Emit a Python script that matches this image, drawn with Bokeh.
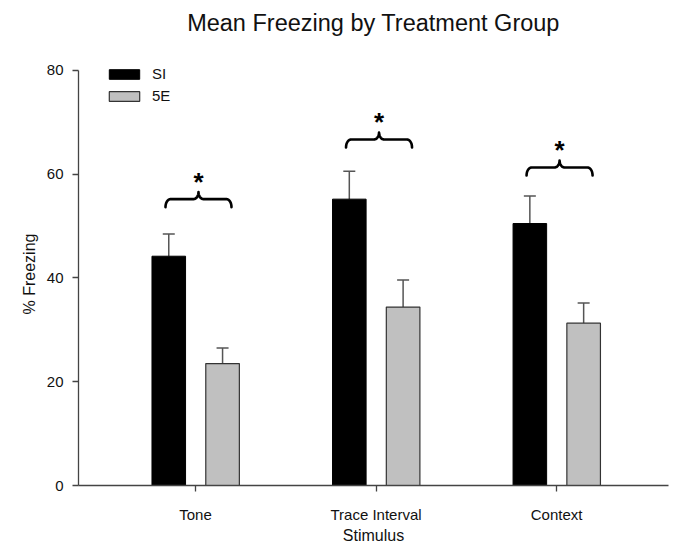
import numpy as np
from bokeh.plotting import figure
from bokeh.models import (Range1d, FixedTicker, ColumnDataSource, Whisker, TeeHead,
                          Legend, LegendItem, Title)
from bokeh.embed import file_html
from bokeh.resources import INLINE
from bokeh.core.properties import value

# ---- data ----
stimuli = ["Tone", "Trace Interval", "Context"]
groups = ["SI", "5E"]
si_mean = [44.2, 55.2, 50.5]
si_sem = [4.3, 5.4, 5.3]
e5_mean = [23.5, 34.4, 31.3]
e5_sem = [3.0, 5.2, 3.9]
brace_y = [55.2, 66.7, 61.3]
significance = ["*", "*", "*"]
y_ticks = [0, 20, 40, 60, 80]
chart_title = "Mean Freezing by Treatment Group"

FONT = "Liberation Sans"
W, H = 673, 546
L, R, T, B = 78, 5, 62, 60
Y_END = 81.54

p = figure(width=W, height=H, output_backend="svg", toolbar_location=None,
           x_range=Range1d(-0.648, 2.62), y_range=Range1d(0, Y_END),
           min_border_left=L, min_border_right=R, min_border_top=T, min_border_bottom=B)
p.outline_line_color = None
p.xgrid.visible = False
p.ygrid.visible = False
p.background_fill_color = "white"
p.border_fill_color = "white"

# spacer between title and frame, then the real title (farther from the frame)
spacer = Title(text=" ", text_font_size="8px", standoff=9, align="center")
p.add_layout(spacer, "above")
main_title = Title(text=chart_title, align="center", vertical_align="top", standoff=9,
                   text_font=FONT, text_font_size="23.5px", text_font_style="normal",
                   text_color="#111")
p.add_layout(main_title, "above")

idx = np.arange(len(stimuli))
off = 0.148
bw = 0.186
xs_si = idx - off
xs_5e = idx + off + 0.002

src_si = ColumnDataSource(dict(x=xs_si, top=si_mean, upper=np.array(si_mean) + np.array(si_sem)))
src_5e = ColumnDataSource(dict(x=xs_5e, top=e5_mean, upper=np.array(e5_mean) + np.array(e5_sem)))

r_si = p.vbar(x="x", top="top", bottom=0, width=bw, source=src_si,
              fill_color="black", line_color="black", line_width=1)
r_5e = p.vbar(x="x", top="top", bottom=0, width=bw, source=src_5e,
              fill_color="#c0c0c0", line_color="#333333", line_width=1.2)

for src in (src_si, src_5e):
    w = Whisker(base="x", upper="upper", lower="top", source=src,
                line_color="#555555", line_width=1.5, lower_head=None,
                upper_head=TeeHead(size=12, line_color="#555555", line_width=1.5))
    p.add_layout(w)

# ---- significance braces ----
px_x = (2.62 + 0.648) / (W - L - R)
px_y = Y_END / (H - T - B)
bx, by = [], []
for i, s in enumerate(significance):
    xc = idx[i] + 3 * px_x
    half = 33 * px_x
    yb = brace_y[i]
    xl = xc - half
    t1 = np.linspace(np.pi, np.pi / 2, 10)
    lx = xl + 5 * px_x + 5 * px_x * np.cos(t1)
    ly = yb - 8 * px_y + 8 * px_y * np.sin(t1)
    t2 = np.linspace(-np.pi / 2, 0, 10)
    cx = xc - 5 * px_x + 5 * px_x * np.cos(t2)
    cy = yb + 7 * px_y + 7 * px_y * np.sin(t2)
    left_x = np.concatenate([lx, cx])
    left_y = np.concatenate([ly, cy])
    right_x = 2 * xc - left_x[::-1]
    right_y = left_y[::-1]
    bx.append(list(np.concatenate([left_x, right_x])))
    by.append(list(np.concatenate([left_y, right_y])))
p.multi_line(bx, by, line_color="black", line_width=2.6, line_join="round", line_cap="round")

star_x = idx + 3 * px_x
star_y = np.array(brace_y) + 17.5 * px_y
p.text(x=star_x, y=star_y, text=significance, text_align="center", text_baseline="middle",
       text_font=value(FONT), text_font_size="26px", text_font_style="bold", text_color="black")

# ---- axes ----
for ax in (p.xaxis[0], p.yaxis[0]):
    ax.axis_line_color = "#444444"
    ax.axis_line_width = 1.3
    ax.major_tick_line_color = "#444444"
    ax.major_tick_line_width = 1.3
    ax.major_tick_in = 0
    ax.major_tick_out = 6
    ax.minor_tick_line_color = None
    ax.major_label_text_font = FONT
    ax.major_label_text_font_size = "15px"
    ax.major_label_text_color = "#111"
    ax.axis_label_text_font = FONT
    ax.axis_label_text_font_style = "normal"
    ax.axis_label_text_font_size = "16px"
    ax.axis_label_text_color = "#111"

p.xaxis.ticker = FixedTicker(ticks=list(idx))
p.xaxis.major_label_overrides = {int(i): s for i, s in zip(idx, stimuli)}
p.xaxis.major_label_standoff = 14
p.xaxis.axis_label = "Stimulus"
p.xaxis.axis_label_standoff = 1

p.yaxis.ticker = FixedTicker(ticks=y_ticks)
p.yaxis.bounds = (0, 80)
p.yaxis.major_label_standoff = 9
p.yaxis.axis_label = "% Freezing"
p.yaxis.axis_label_standoff = 6

legend = Legend(items=[LegendItem(label=groups[0], renderers=[r_si]),
                       LegendItem(label=groups[1], renderers=[r_5e])],
                location=(27, 381), padding=0, margin=0, spacing=5,
                glyph_width=38, glyph_height=12, label_height=17, label_standoff=9,
                label_text_font=FONT, label_text_font_size="15px", label_text_color="#111",
                border_line_color=None, background_fill_alpha=0)
p.add_layout(legend)

open("out.html", "w").write(file_html(p, INLINE))
